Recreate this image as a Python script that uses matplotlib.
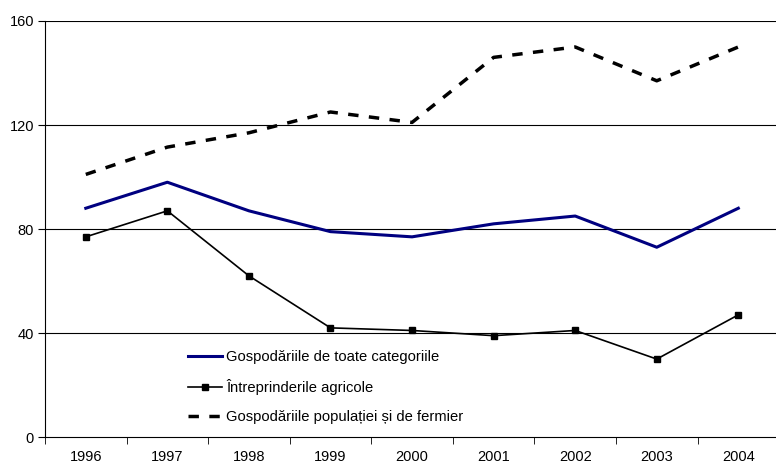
import matplotlib
matplotlib.use("Agg")
import matplotlib.pyplot as plt
import numpy as np

plt.rcParams['font.family'] = ['Liberation Sans', 'DejaVu Sans']

years = ['1996', '1997', '1998', '1999', '2000', '2001', '2002', '2003', '2004']
toate = [88, 98, 87, 79, 77, 82, 85, 73, 88]
intreprinderi = [77, 87, 62, 42, 41, 39, 41, 30, 47]
populatie = [101, 111.5, 117, 125, 121, 146, 150, 137, 150]

labels = ['Gospodăriile de toate categoriile',
          'Întreprinderile agricole',
          'Gospodăriile populației și de fermier']

fig = plt.figure(figsize=(7.76, 4.66), dpi=100)
ax = fig.add_axes([0.058, 0.062, 0.946, 0.893])

x = np.arange(len(years))
for yv in [40, 80, 120, 160]:
    ax.axhline(yv, color='black', lw=0.8, zorder=1)

ax.plot(x, toate, color='#000080', lw=2.2, label=labels[0], zorder=3)
ax.plot(x, intreprinderi, color='black', lw=1.2, marker='s', markersize=4.5,
        label=labels[1], zorder=3)
ax.plot(x, populatie, color='black', lw=2.5, dashes=(3, 3), label=labels[2], zorder=3)

ax.set_xlim(-0.5, 8.5)
ax.set_ylim(0, 160)
ax.set_yticks([0, 40, 80, 120, 160])
ax.set_xticks(x)
ax.set_xticklabels(years)
ax.set_xticks(np.arange(-0.5, 9, 1), minor=True)
ax.tick_params(axis='x', which='major', length=0, pad=9, labelsize=10.5)
ax.tick_params(axis='x', which='minor', length=5, direction='out', color='black')
ax.tick_params(axis='y', length=5, direction='out', labelsize=10.5, pad=3)

for s in ['top', 'right']:
    ax.spines[s].set_visible(False)
ax.spines['left'].set_color('black')
ax.spines['bottom'].set_color('black')

ax.legend(loc='upper left', bbox_to_anchor=(0.225, 0.277), bbox_transform=fig.transFigure,
          frameon=False, fontsize=10.6, handlelength=2.3, handletextpad=0.3,
          labelspacing=1.02)

fig.savefig('out.png', dpi=100)
